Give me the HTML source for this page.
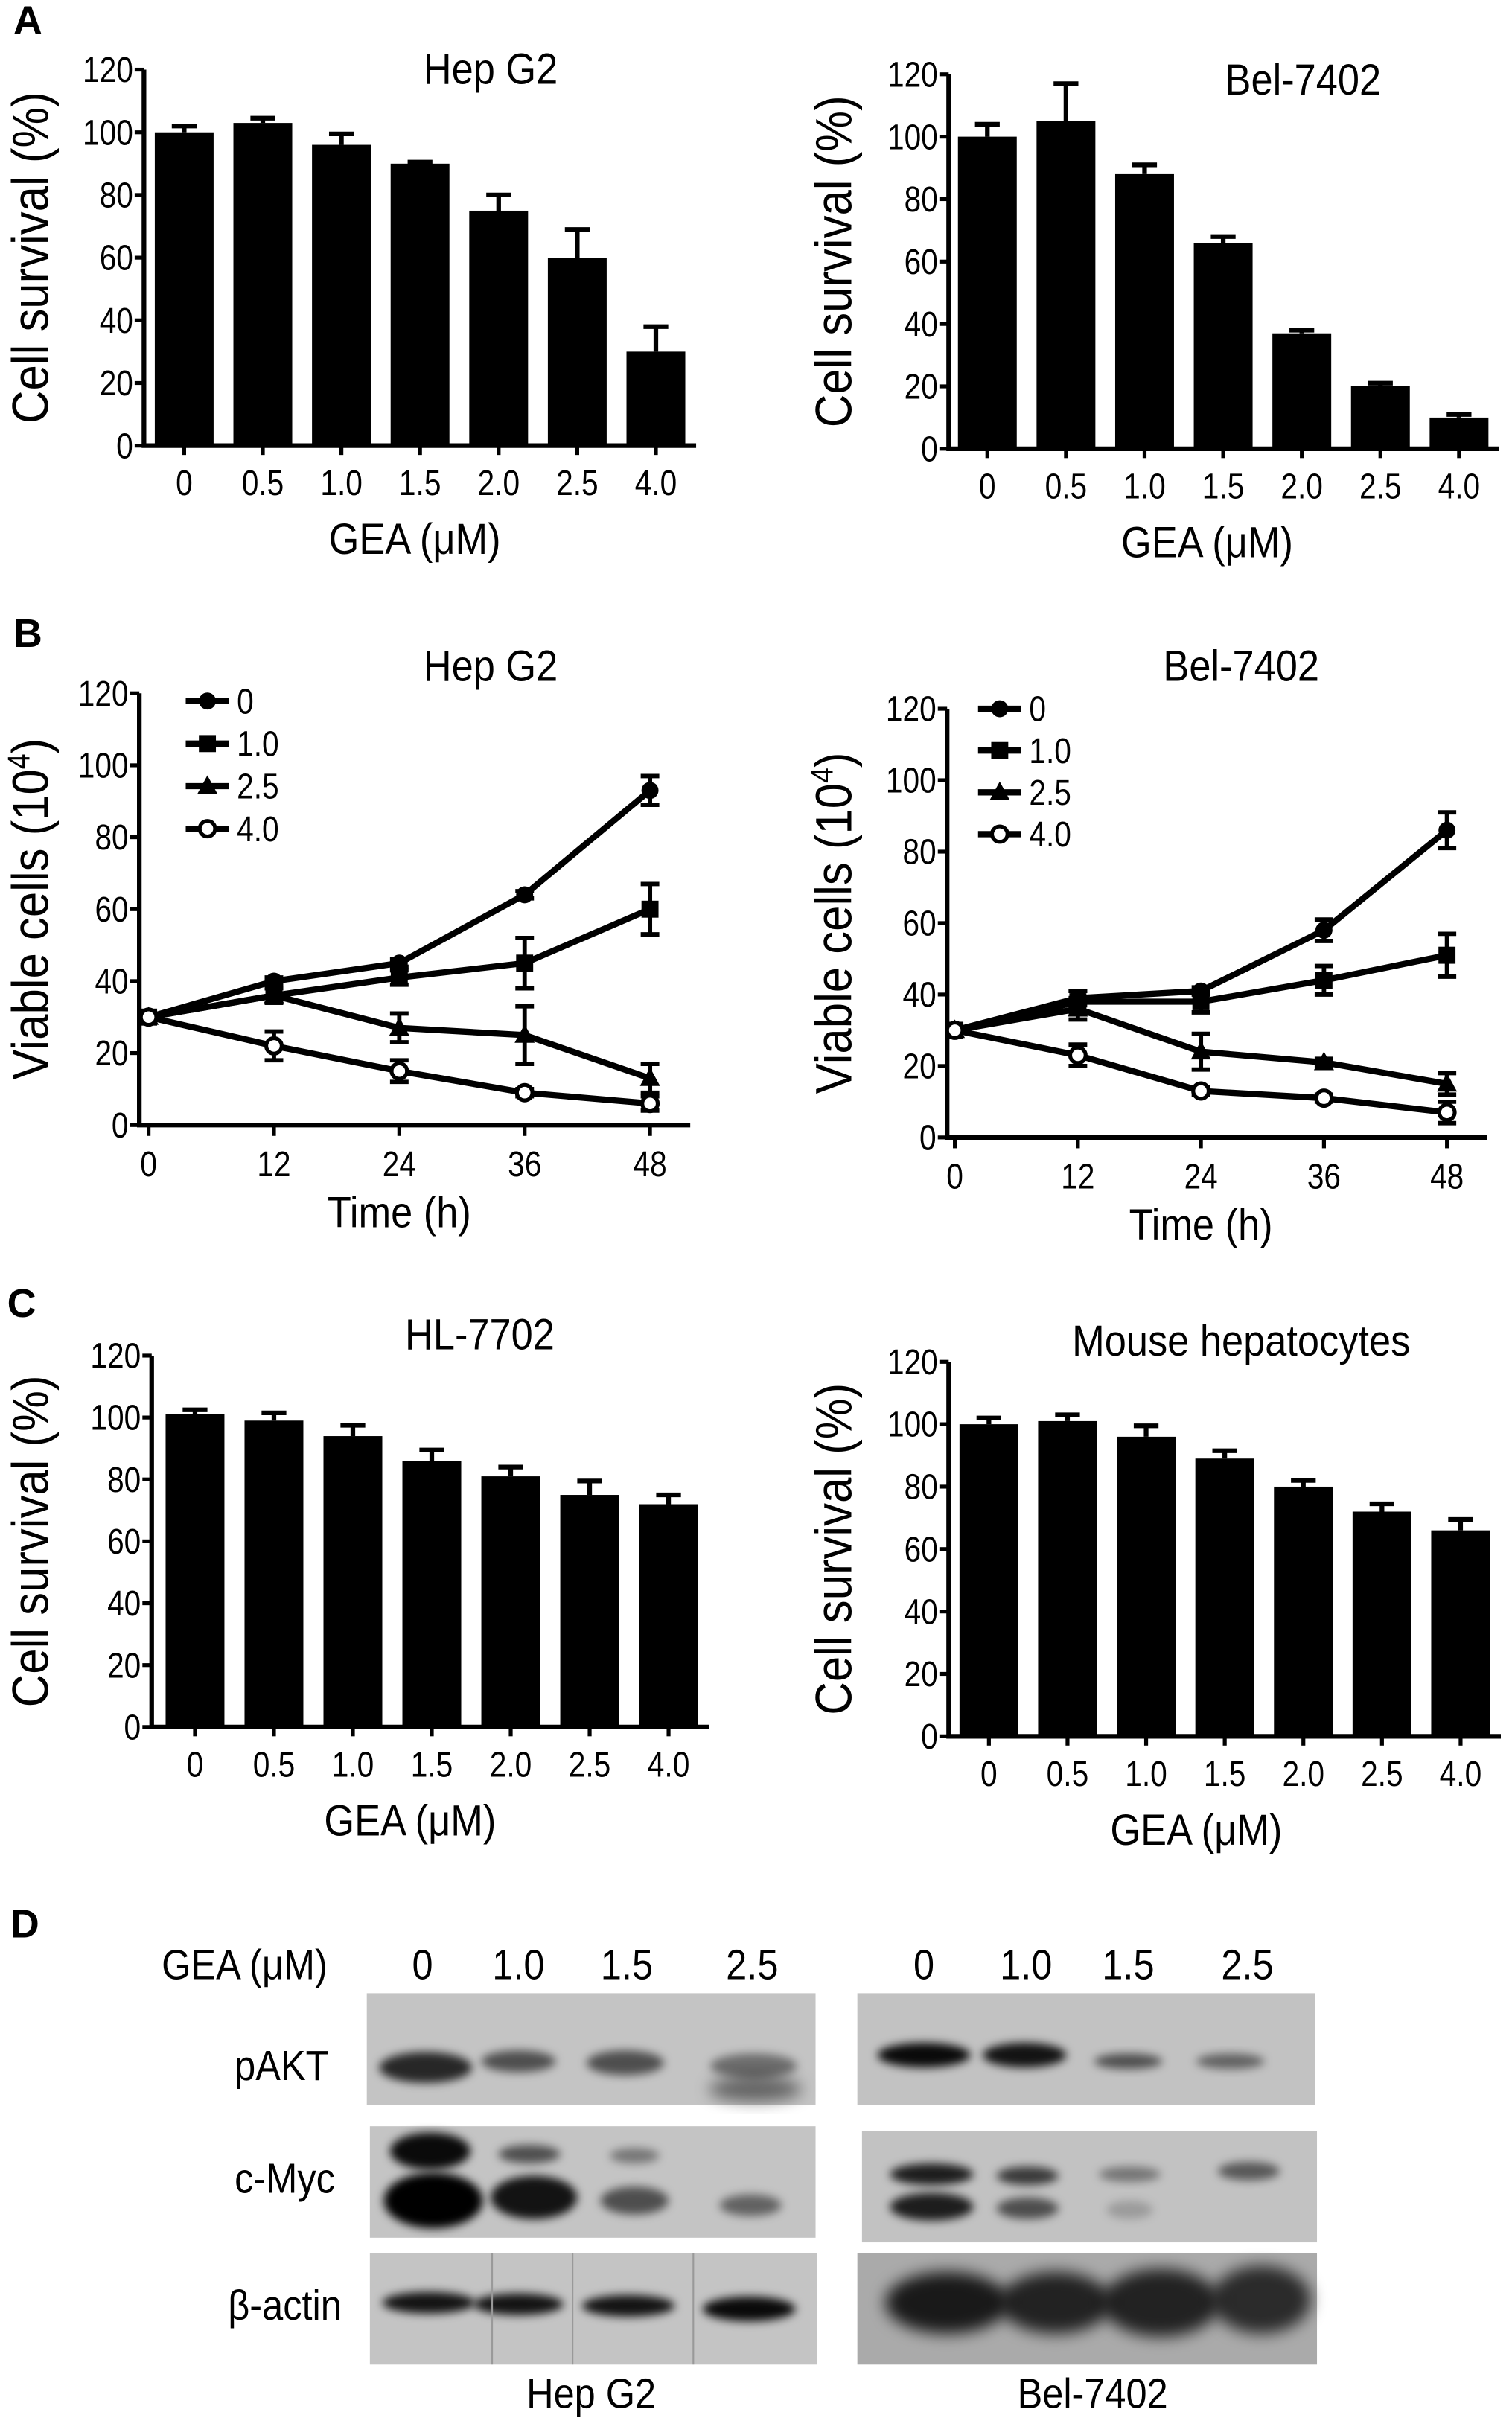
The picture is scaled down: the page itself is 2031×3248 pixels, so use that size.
<!DOCTYPE html>
<html><head><meta charset="utf-8"><style>
html,body{margin:0;padding:0;background:#fff;}
svg{display:block;font-family:"Liberation Sans",sans-serif;}
</style></head><body>
<svg id="fig" width="2031" height="3248" viewBox="0 0 977 1562.5" xmlns="http://www.w3.org/2000/svg">
<defs>
<filter id="blur2" x="-50%" y="-50%" width="200%" height="200%"><feGaussianBlur stdDeviation="3"/></filter>
<filter id="blur4" x="-50%" y="-50%" width="200%" height="200%"><feGaussianBlur stdDeviation="5"/></filter>
</defs>
<g id="root"></g>
</svg>
<script>
// ---- Data ----
const doseCats = ["0","0.5","1.0","1.5","2.0","2.5","4.0"];
const aHepVals = [100,103,96,90,75,60,30];
const aHepErr  = [2,1.5,3.5,0.5,5,9,8];
const aBelVals = [100,105,88,66,37,20,10];
const aBelErr  = [4,12,3,2,1,1,1];
const cHLVals  = [101,99,94,86,81,75,72];
const cHLErr   = [1.5,2.5,3.5,3.5,3,4.5,3];
const cMouseVals = [100,101,96,89,80,72,66];
const cMouseErr  = [2,2,3.5,2.5,2,2.5,3.5];
const yTicks = [0,20,40,60,80,100,120];
const timeTicks = [0,12,24,36,48];
const legendLabels = ["0","1.0","2.5","4.0"];
const bHep0  = [30,40,45,64,93];   const bHep0e  = [0,1,1,1,4];
const bHep1  = [30,36,41,45,60];   const bHep1e  = [0,2,2,7,7];
const bHep25 = [30,36,27,25,13];   const bHep25e = [0,2,4,8,4];
const bHep4  = [30,22,15,9,6];     const bHep4e  = [0,4,3,1,2];
const bBel0  = [30,39,41,58,86];   const bBel0e  = [0,2,1,3,5];
const bBel1  = [30,38,38,44,51];   const bBel1e  = [0,3,3,4,6];
const bBel25 = [30,36,24,21,15];   const bBel25e = [0,3,5,1,3];
const bBel4  = [30,23,13,11,7];    const bBel4e  = [0,3,1,1,3];
const blotLanes = ["0","1.0","1.5","2.5"];

const NS="http://www.w3.org/2000/svg";
const root=document.getElementById('root');
function el(tag,attrs,parent,text){
  const e=document.createElementNS(NS,tag);
  for(const k in attrs) e.setAttribute(k,attrs[k]);
  if(text!==undefined) e.textContent=text;
  (parent||root).appendChild(e);
  return e;
}
function condense(t,f){
  try{const w=t.getComputedTextLength(); if(w>0){t.setAttribute('textLength',(w*f).toFixed(1));t.setAttribute('lengthAdjust','spacingAndGlyphs');}}catch(e){}
}
function txt(x,y,s,size,parent,anchor,weight,f){
  const t=el('text',{x:x,y:y,'font-size':size,'text-anchor':anchor||'middle','font-weight':weight||'normal',fill:'#000'},parent,s);
  if(f) condense(t,f);
  return t;
}
const TICK=23, TICKF=0.85, TITLE=28, TITLEF=0.9, AXT=33, AXTF=0.9;

function barChart(o){
  const g=el('g',{});
  
  
  const ys=v=>o.y0-(v/120)*(o.y0-o.yTop);
  o.vals.forEach((v,i)=>{
    const cx=o.x0+o.step*i;
    const b=el('rect',{x:cx-19,y:ys(v),width:38,height:o.y0-ys(v),fill:'#000'},g);
    
    
    const e=o.errs[i];
    const eb=el('path',{d:`M${cx},${ys(v)} V${ys(v+e)} M${cx-8},${ys(v+e)} H${cx+8}`,stroke:'#000','stroke-width':3,fill:'none'},g);
    
    
    el('line',{x1:cx,y1:o.y0,x2:cx,y2:o.y0+6,stroke:'#000','stroke-width':2.5},g);
    const lab=txt(cx,o.y0+32,doseCats[i],TICK,g,'middle','normal',TICKF);
    
    
  });
  const ax=el('path',{d:`M${o.ax},${o.yTop} V${o.y0} H${o.x0+o.step*6+26}`,stroke:'#000','stroke-width':3,fill:'none'},g);
  
  
  yTicks.forEach(t=>{
    el('line',{x1:o.ax-6,y1:ys(t),x2:o.ax,y2:ys(t),stroke:'#000','stroke-width':2.5},g);
    const l=txt(o.ax-7,ys(t)+8,String(t),TICK,g,'end','normal',TICKF);
    
    
  });
  const tt=txt(o.titleX,o.titleY,o.title,TITLE,g,'middle','normal',TITLEF);
  
  
  const xt=txt(o.xtX,o.y0+70,"GEA (μM)",TITLE,g,'middle','normal',TITLEF);
  
  
  const cy=(o.yTop+o.y0)/2;
  const yt=txt(0,0,"Cell survival (%)",AXT,g,'middle','normal',AXTF);
  yt.setAttribute('transform',`translate(${o.ytX},${cy}) rotate(-90)`);
  
  
}

function marker(kind,x,y,g){
  if(kind===0) return el('circle',{cx:x,cy:y,r:5.5,fill:'#000'},g);
  if(kind===1) return el('rect',{x:x-5.5,y:y-5.5,width:11,height:11,fill:'#000'},g);
  if(kind===2) return el('path',{d:`M${x},${y-7} L${x+6.5},${y+5} L${x-6.5},${y+5} Z`,fill:'#000'},g);
  return el('circle',{cx:x,cy:y,r:5,fill:'#fff',stroke:'#000','stroke-width':2.5},g);
}

function lineChart(o){
  const g=el('g',{});
  
  
  const ys=v=>o.y0-(v/120)*(o.y0-o.yTop);
  const xs=t=>o.xL+(t/48)*(o.xR-o.xL);
  const ax=el('path',{d:`M${o.ax},${o.yTop} V${o.y0} H${o.xR+26}`,stroke:'#000','stroke-width':3,fill:'none'},g);
  
  
  yTicks.forEach(t=>{
    el('line',{x1:o.ax-6,y1:ys(t),x2:o.ax,y2:ys(t),stroke:'#000','stroke-width':2.5},g);
    const l=txt(o.ax-7,ys(t)+8,String(t),TICK,g,'end','normal',TICKF);
    
    
  });
  timeTicks.forEach(t=>{
    el('line',{x1:xs(t),y1:o.y0,x2:xs(t),y2:o.y0+7,stroke:'#000','stroke-width':2.5},g);
    const l=txt(xs(t),o.y0+33,String(t),TICK,g,'middle','normal',TICKF);
    
    
  });
  o.series.forEach((s,k)=>{
    const d=s.v.map((v,i)=>(i?'L':'M')+xs(timeTicks[i])+','+ys(v)).join(' ');
    const ln=el('path',{d:d,stroke:'#000','stroke-width':4,fill:'none'},g);
    
    
    s.v.forEach((v,i)=>{
      const x=xs(timeTicks[i]),e=s.e[i];
      if(e>0){
        const eb=el('path',{d:`M${x},${ys(v-e)} V${ys(v+e)} M${x-6},${ys(v+e)} H${x+6} M${x-6},${ys(v-e)} H${x+6}`,stroke:'#000','stroke-width':2.8,fill:'none'},g);
        
        
      }
      const m=marker(k,x,ys(v),g);
      
      
    });
  });
  legendLabels.forEach((lab,k)=>{
    const ly=o.legY+o.legStep*k;
    const lg=el('g',{},g);
    
    
    el('line',{x1:o.legX,y1:ly,x2:o.legX+28,y2:ly,stroke:'#000','stroke-width':4},lg);
    marker(k,o.legX+14,ly,lg);
    txt(o.legX+33,ly+8,lab,TICK,lg,'start','normal',TICKF);
  });
  const tt=txt(o.titleX,o.titleY,o.title,TITLE,g,'middle','normal',TITLEF);
  
  
  const xt=txt((o.xL+o.xR)/2,o.y0+66,"Time (h)",TITLE,g,'middle','normal',TITLEF);
  
  
  const cy=(o.yTop+o.y0)/2;
  const yt=el('text',{'font-size':AXT,'text-anchor':'middle',transform:`translate(${o.ytX},${cy}) rotate(-90)`},g);
  
  
  el('tspan',{},yt,'Viable cells (10');
  el('tspan',{'font-size':20,dy:-12},yt,'4');
  el('tspan',{dy:12},yt,')');
  condense(yt,0.9);
}

[["A",18,22],["B",18,418],["C",14,851],["D",16,1252]].forEach(p=>{
  const t=txt(p[1],p[2],p[0],26,root,'middle','bold');
  
  
});

barChart({name:'chart-a-hepg2',ax:93,yTop:45,y0:288,x0:119,step:50.8,vals:aHepVals,errs:aHepErr,title:'Hep G2',titleX:317,titleY:54,xtX:268,ytX:31});
barChart({name:'chart-a-bel7402',ax:613,yTop:48,y0:290,x0:638,step:50.8,vals:aBelVals,errs:aBelErr,title:'Bel-7402',titleX:842,titleY:61,xtX:780,ytX:550});
lineChart({name:'chart-b-hepg2',ax:90,yTop:448,y0:727,xL:96,xR:420,title:'Hep G2',titleX:317,titleY:440,ytX:31,legX:120,legY:453,legStep:27.5,
  series:[{v:bHep0,e:bHep0e},{v:bHep1,e:bHep1e},{v:bHep25,e:bHep25e},{v:bHep4,e:bHep4e}]});
lineChart({name:'chart-b-bel7402',ax:612,yTop:458,y0:735,xL:617,xR:935,title:'Bel-7402',titleX:802,titleY:440,ytX:550,legX:632,legY:458,legStep:27,
  series:[{v:bBel0,e:bBel0e},{v:bBel1,e:bBel1e},{v:bBel25,e:bBel25e},{v:bBel4,e:bBel4e}]});
barChart({name:'chart-c-hl7702',ax:98,yTop:876,y0:1116,x0:126,step:51,vals:cHLVals,errs:cHLErr,title:'HL-7702',titleX:310,titleY:872,xtX:265,ytX:31});
barChart({name:'chart-c-mouse-hepatocytes',ax:613,yTop:880,y0:1122,x0:639,step:50.8,vals:cMouseVals,errs:cMouseErr,title:'Mouse hepatocytes',titleX:802,titleY:876,xtX:773,ytX:550});

// ---- Panel D blots ----
const D=el('g',{});


const DF=27, DFF=0.9;
const h=txt(158,1279,'GEA (μM)',DF,D,'middle','normal',DFF);


const laneXL=[273,335,405,486], laneXR=[597,663,729,806];
blotLanes.forEach((l,i)=>{
  const a=txt(laneXL[i],1279,l,DF,D,'middle','normal',DFF);  
  const b=txt(laneXR[i],1279,l,DF,D,'middle','normal',DFF);  
});
const boxes=[
 {x:237,y:1288,w:290,h:72,bg:'#c4c4c4'},{x:554,y:1288,w:296,h:72,bg:'#c2c2c2'},
 {x:239,y:1374,w:288,h:72,bg:'#c4c4c4'},{x:557,y:1377,w:294,h:72,bg:'#c2c2c2'},
 {x:239,y:1456,w:289,h:72,bg:'#c4c4c4'},{x:554,y:1456,w:297,h:72,bg:'#aaaaaa'}
];
boxes.forEach((b,i)=>{
  const r=el('rect',{x:b.x,y:b.y,width:b.w,height:b.h,fill:b.bg},D);
  
  
});
function band(cx,cy,rx,ry,op,blur){
  const e=el('ellipse',{cx:cx,cy:cy,rx:rx,ry:ry,fill:'#000','fill-opacity':op,filter:'url(#'+(blur||'blur2')+')'},D);
  
  
}
band(275,1336,30,10,0.8);band(335,1332,24,7,0.6);band(404,1333,25,8,0.6);band(487,1335,28,8,0.45);band(488,1350,30,8,0.5,'blur4');
band(597,1328,30,8,0.95);band(662,1328,27,8,0.9);band(729,1332,22,5,0.6);band(795,1332,22,5,0.5);
band(278,1390,26,12,0.95);band(280,1422,32,18,1);band(342,1392,20,6,0.6);band(345,1420,28,14,0.9);
band(410,1393,16,5,0.4);band(410,1422,22,9,0.6);band(485,1425,20,7,0.5);
band(602,1405,27,7,0.85);band(602,1426,27,9,0.85);band(664,1406,20,6,0.7);band(664,1427,20,7,0.6);
band(730,1405,20,5,0.4);band(807,1403,20,6,0.55);band(730,1428,15,6,0.2);
band(277,1488,30,7,0.9);band(335,1489,29,7,0.9);band(406,1490,30,7,0.9);band(484,1492,30,8,0.95);
band(612,1488,40,20,0.85,'blur4');band(682,1488,36,20,0.8,'blur4');band(750,1488,38,22,0.8,'blur4');band(815,1486,32,22,0.75,'blur4');
[318,370,448].forEach(x=>{const l=el('line',{x1:x,y1:1456,x2:x,y2:1528,stroke:'#999','stroke-width':1},D);});
[["pAKT",182,1344],["c-Myc",184,1417],["β-actin",184,1499]].forEach(p=>{
  const t=txt(p[1],p[2],p[0],DF,D,'middle','normal',DFF);
  
  
});
[["Hep G2",382,1556],["Bel-7402",706,1556]].forEach(p=>{
  const t=txt(p[1],p[2],p[0],DF,D,'middle','normal',DFF);
  
  
});
</script>
</body></html>
